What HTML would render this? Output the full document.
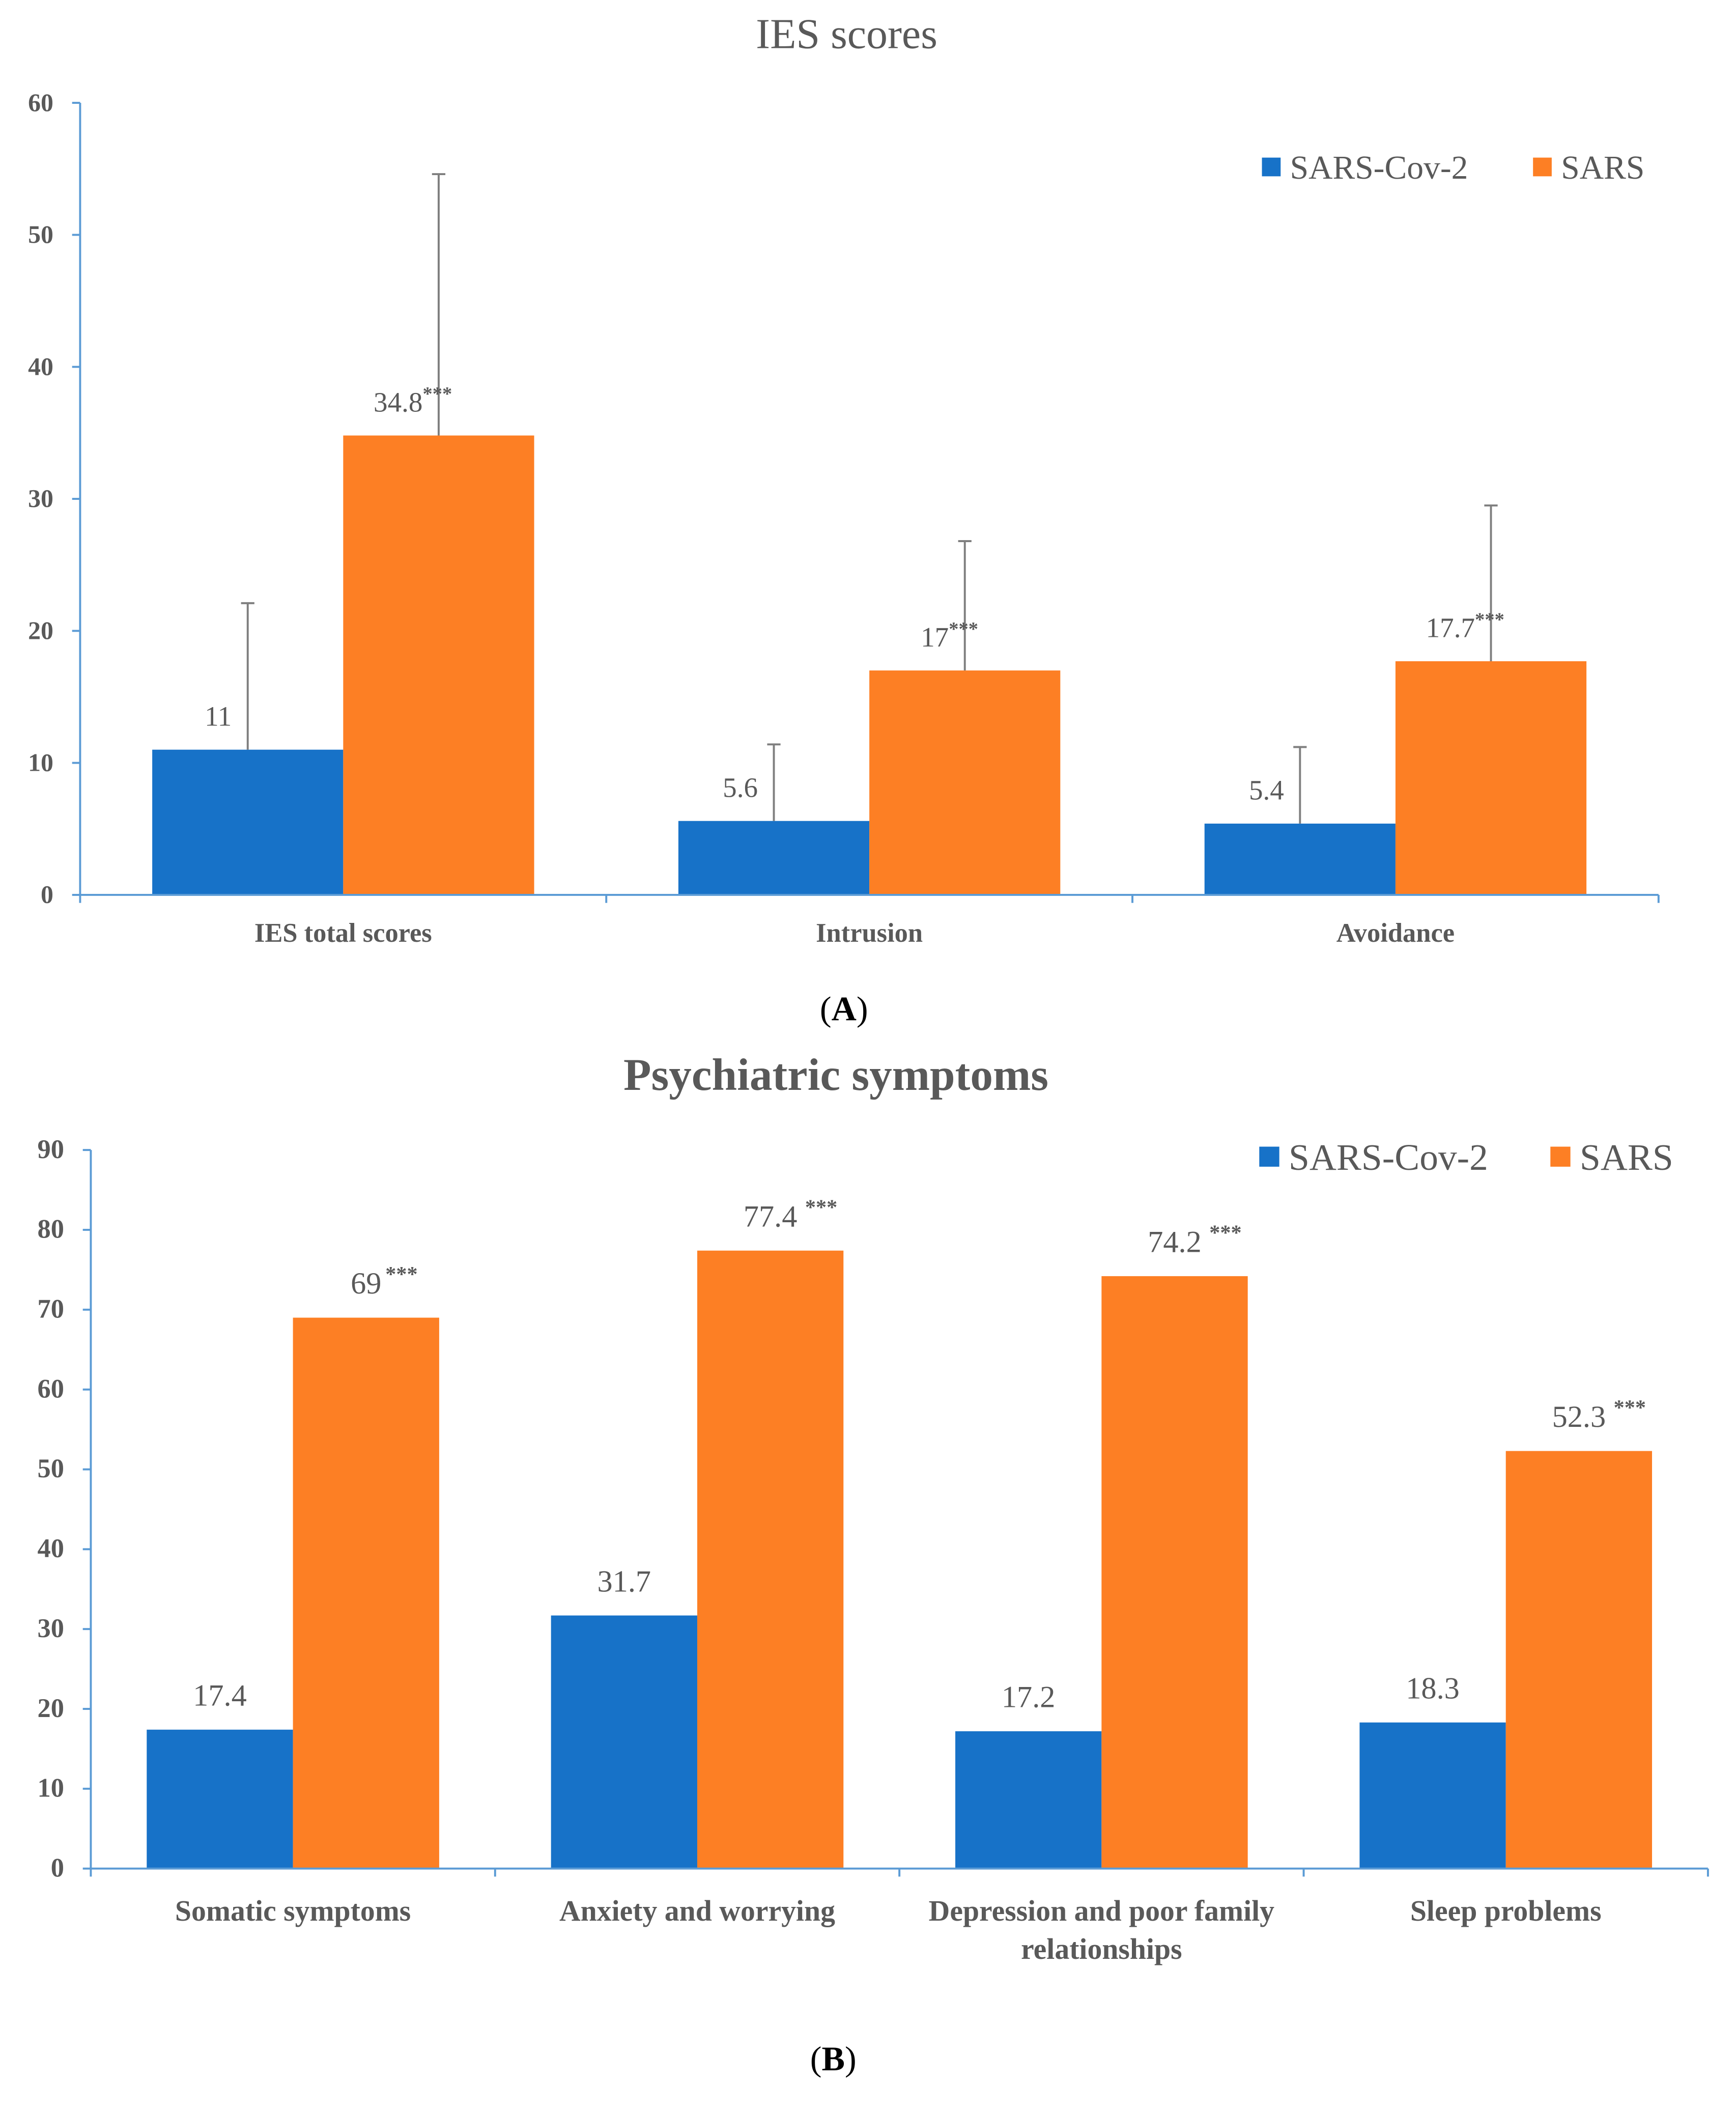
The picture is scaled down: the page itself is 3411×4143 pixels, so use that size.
<!DOCTYPE html>
<html>
<head>
<meta charset="utf-8">
<style>
html,body{margin:0;padding:0;background:#fff;}
svg{display:block;}
svg text, svg tspan{font-family:"Liberation Serif",serif !important;}
</style>
</head>
<body>
<svg id="chart" width="3411" height="4143" viewBox="0 0 1300 1579" preserveAspectRatio="none" font-family="Liberation Serif, serif" xmlns="http://www.w3.org/2000/svg"></svg>
<script>
// Panel A data
const catsA = ["IES total scores", "Intrusion", "Avoidance"];
const covA = [11, 5.6, 5.4];
const sarsA = [34.8, 17, 17.7];
const covErrA = [22.1, 11.4, 11.2];
const sarsErrA = [54.6, 26.8, 29.5];
const ticksA = [0, 10, 20, 30, 40, 50, 60];
// Panel B data
const catsB = [["Somatic symptoms"], ["Anxiety and worrying"], ["Depression and poor family", "relationships"], ["Sleep problems"]];
const covB = [17.4, 31.7, 17.2, 18.3];
const sarsB = [69, 77.4, 74.2, 52.3];
const ticksB = [0, 10, 20, 30, 40, 50, 60, 70, 80, 90];

const NS = "http://www.w3.org/2000/svg";
const svg = document.getElementById("chart");
const BLUE = "#1772c8", ORANGE = "#fd7f24", AXIS = "#5b9bd5", TXT = "#595959";
const FONT = "Liberation Serif, serif";

function mk(tag, attrs, parent) {
  const e = document.createElementNS(NS, tag);
  for (const k in attrs) e.setAttribute(k, attrs[k]);
  (parent || svg).appendChild(e);
  return e;
}
function txt(s, attrs, parent) { attrs["font-family"] = FONT; const t = mk("text", attrs, parent); t.textContent = s; return t; }

function panel(cfg) {
  const g = mk("g", {});
  
  
  const ys = v => cfg.y0 - v / cfg.ymax * (cfg.y0 - cfg.ytop);
  const gw = (cfg.x1 - cfg.x0) / cfg.cats.length;
  const t = txt(cfg.title, {x: cfg.titleX, y: cfg.titleY, "text-anchor": "middle", "font-size": cfg.titleSize, fill: TXT, "font-weight": cfg.titleBold ? "bold" : "normal"}, g);
  
  
  const ya = mk("line", {x1: cfg.x0, y1: cfg.ytop, x2: cfg.x0, y2: cfg.y0, stroke: AXIS, "stroke-width": 1.5}, g);
  
  
  cfg.ticks.forEach(v => {
    const y = ys(v);
    mk("line", {x1: cfg.x0 - 6, y1: y, x2: cfg.x0, y2: y, stroke: AXIS, "stroke-width": 1.5}, g);
    const tl = txt(String(v), {x: cfg.x0 - 20, y: y + 6, "text-anchor": "end", "font-size": cfg.tickSize, "font-weight": "bold", fill: TXT}, g);
    
    
  });
  cfg.cats.forEach((c, i) => {
    const cx = cfg.x0 + gw * (i + 0.5);
    const series = [[cfg.cov[i], BLUE, cx - cfg.bw, cfg.covErr ? cfg.covErr[i] : null, false],
                    [cfg.sars[i], ORANGE, cx, cfg.sarsErr ? cfg.sarsErr[i] : null, true]];
    series.forEach(([v, col, bx, err, stars], si) => {
      const r = mk("rect", {x: bx, y: ys(v), width: cfg.bw, height: cfg.y0 - ys(v), fill: col}, g);
      
      
      const bc = bx + cfg.bw / 2;
      if (err != null) {
        mk("line", {x1: bc, y1: ys(v), x2: bc, y2: ys(err), stroke: "#7f7f7f", "stroke-width": 1.5}, g);
        mk("line", {x1: bc - 5, y1: ys(err), x2: bc + 5, y2: ys(err), stroke: "#7f7f7f", "stroke-width": 1.5}, g);
      }
      let lx, anchor;
      if (cfg.covErr) { lx = bc - 12; anchor = "end"; } else { lx = bc; anchor = "middle"; }
      const lab = txt(String(v), {x: lx, y: ys(v) - cfg.labOff, "text-anchor": anchor, "font-size": cfg.labSize, fill: TXT}, g);
      
      
      if (stars) {
        const w = String(v).length * cfg.labSize * 0.5;
        const sx = anchor === "end" ? lx : lx + w / 2 + 3;
        const st = txt("***", {x: sx, y: ys(v) - cfg.labOff - cfg.labSize * 0.4, "font-size": cfg.labSize * 0.7, "font-weight": "bold", fill: TXT}, g);
        
        
      }
    });
    const lines = Array.isArray(c) ? c : [c];
    lines.forEach((ln, li) => {
      const xl = txt(ln, {x: cx, y: cfg.catY + li * cfg.catSize * 1.3, "text-anchor": "middle", "font-size": cfg.catSize, "font-weight": "bold", fill: TXT}, g);
      
      
    });
  });
  const xa = mk("line", {x1: cfg.x0, y1: cfg.y0, x2: cfg.x1, y2: cfg.y0, stroke: AXIS, "stroke-width": 1.5}, g);
  
  
  for (let i = 0; i <= cfg.cats.length; i++) {
    const x = cfg.x0 + gw * i;
    mk("line", {x1: x, y1: cfg.y0, x2: x, y2: cfg.y0 + 6, stroke: AXIS, "stroke-width": 1.5}, g);
  }
  const L = cfg.leg;
  const lg = mk("g", {}, g);
  
  
  mk("rect", {x: L.bx, y: L.y - L.s / 2, width: L.s, height: L.s, fill: BLUE}, lg);
  txt("SARS-Cov-2", {x: L.bx + L.s + 7, y: L.y + L.fs * 0.35, "font-size": L.fs, fill: TXT}, lg);
  mk("rect", {x: L.ox, y: L.y - L.s / 2, width: L.s, height: L.s, fill: ORANGE}, lg);
  txt("SARS", {x: L.ox + L.s + 7, y: L.y + L.fs * 0.35, "font-size": L.fs, fill: TXT}, lg);
  const pl = mk("text", {x: cfg.titleX - 2, y: cfg.letterY, "text-anchor": "middle", "font-size": 26, fill: "#000", "font-family": FONT}, g);
  pl.innerHTML = '(<tspan font-weight="bold">' + cfg.letter + '</tspan>)';
  
  
}

panel({name: "panel-a-ies-scores", title: "IES scores", titleX: 634, titleY: 36, titleSize: 32, titleBold: false,
  x0: 60, x1: 1242, y0: 670, ytop: 77, ymax: 60, ticks: ticksA, tickSize: 19, bw: 143,
  cats: catsA, cov: covA, sars: sarsA, covErr: covErrA, sarsErr: sarsErrA,
  labOff: 18, labSize: 21, catY: 705, catSize: 20,
  leg: {bx: 945, ox: 1148, y: 125, s: 14, fs: 25}, letter: "A", letterY: 764});

panel({name: "panel-b-psychiatric-symptoms", title: "Psychiatric symptoms", titleX: 626, titleY: 816, titleSize: 34, titleBold: true,
  x0: 68, x1: 1279, y0: 1399, ytop: 861, ymax: 90, ticks: ticksB, tickSize: 20, bw: 109.5,
  cats: catsB, cov: covB, sars: sarsB, covErr: null, sarsErr: null,
  labOff: 18, labSize: 23, catY: 1438, catSize: 22,
  leg: {bx: 943, ox: 1161, y: 866, s: 15, fs: 28}, letter: "B", letterY: 1550});
</script>
</body>
</html>
